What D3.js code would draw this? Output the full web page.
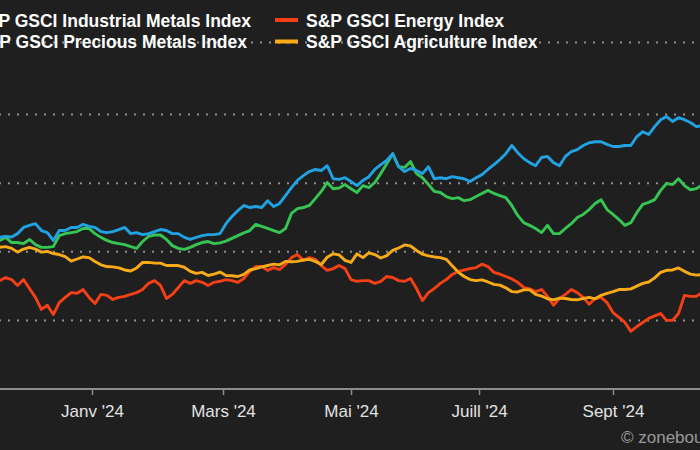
<!DOCTYPE html>
<html><head><meta charset="utf-8">
<script src="https://cdn.jsdelivr.net/npm/d3@7"></script>
<style>html,body{margin:0;padding:0;background:#1f1f1f;overflow:hidden}</style>
</head><body><svg id="c" width="700" height="450"></svg>
<script>
// ---- data ----
const seriesNames = ["S&P GSCI Industrial Metals Index", "S&P GSCI Energy Index", "S&P GSCI Precious Metals Index", "S&P GSCI Agriculture Index"];
const seriesColors = ["#36c552", "#f53f15", "#21a2e2", "#f8ab17"];
const tickDates = ["2024-01-01", "2024-03-01", "2024-05-01", "2024-07-01", "2024-09-01"];
const tickLabels = ["Janv '24", "Mars '24", "Mai '24", "Juill '24", "Sept '24"];
const yTicks = [80, 100, 120, 140, 161];
const firstDate = "2023-11-17";   // first sample, one value every 2 trading days
const industrialMetals = [103.3,104.2,102.7,102.7,102.4,103.6,102.1,101.3,101.3,101.5,
104.7,105.3,105.6,105.9,106.8,106.8,105.3,104.2,103.3,102.7,
102.4,102.1,101.5,101.0,103.0,104.5,104.9,104.9,103.6,101.8,
101.0,100.7,101.3,102.1,102.7,103.0,102.4,102.6,103.1,103.9,
104.7,105.5,106.2,108.0,107.4,106.8,106.2,105.6,106.8,111.2,
112.6,112.9,113.5,115.5,117.6,120.2,118.4,118.6,119.6,118.4,
117.3,119.3,118.7,120.2,122.8,125.7,128.6,124.8,124.6,126.3,
122.8,121.6,119.6,117.6,117.3,116.1,115.5,115.8,114.9,115.2,
116.1,117.0,117.9,117.0,116.4,115.8,113.5,110.6,108.5,107.7,
106.8,105.6,107.7,105.3,105.3,106.8,108.2,110.0,110.9,112.3,
114.1,115.2,112.3,110.9,109.4,107.7,108.5,111.4,113.8,114.4,
115.2,117.9,119.9,119.6,121.3,119.3,118.1,118.4,119.6];
const energy = [91.6,92.5,91.9,90.2,91.9,89.3,86.7,83.2,84.4,81.7,
85.2,86.7,88.1,87.9,89.0,86.7,84.9,87.6,87.3,86.1,
86.7,87.0,87.6,88.1,89.0,90.8,91.6,90.2,86.4,87.6,
89.6,91.6,90.8,91.6,91.1,90.2,91.1,91.4,91.9,91.6,
91.1,92.2,94.3,95.7,95.7,94.6,95.4,94.8,96.3,98.3,
99.2,97.5,98.3,97.8,96.0,94.6,95.1,96.0,95.1,91.9,
91.4,91.6,91.6,90.8,91.4,92.8,92.5,91.6,91.4,92.2,
89.3,85.8,88.1,89.3,90.8,91.9,93.4,94.3,94.7,95.1,
95.4,96.4,95.7,94.0,93.5,92.8,92.1,91.1,89.6,89.2,
88.4,89.0,87.0,84.4,86.4,87.6,89.0,88.1,86.7,84.7,
86.4,86.7,85.2,82.3,80.9,79.4,76.8,78.2,79.4,80.6,
81.3,82.0,80.0,80.0,82.0,87.3,87.0,87.0,88.1];
const preciousMetals = [104.2,104.5,104.3,105.3,107.1,107.7,108.2,106.2,105.6,103.3,
106.2,106.2,107.1,107.1,108.0,107.4,107.1,105.9,105.6,105.9,
106.5,107.1,105.3,105.6,105.0,105.3,105.9,106.5,106.2,105.3,
105.3,104.2,103.6,104.2,104.7,105.0,105.0,105.3,108.2,110.3,
112.0,113.5,112.9,113.2,112.9,114.9,113.2,114.1,116.4,118.7,
120.8,122.2,123.4,124.0,123.7,125.1,121.3,121.1,121.6,120.5,
119.3,120.8,121.9,124.0,125.4,126.6,128.6,124.8,123.4,124.3,
123.7,122.8,124.8,121.3,121.6,121.3,121.9,121.6,121.3,120.5,
121.6,122.5,124.0,125.4,126.9,128.6,131.0,128.9,127.2,126.0,
125.1,127.5,127.8,126.0,125.1,127.8,129.2,129.8,131.0,131.8,
132.1,132.1,131.3,130.7,130.7,131.0,131.0,133.6,135.0,134.2,
136.5,138.5,139.4,138.0,139.1,138.5,137.7,136.5,136.8];
const agriculture = [101.3,101.5,101.0,99.9,100.8,101.3,100.8,99.9,100.1,99.5,
99.2,98.6,97.3,97.9,98.5,98.3,97.2,96.2,95.7,95.6,
95.3,94.7,94.4,95.3,96.9,96.9,96.7,96.7,96.0,96.0,
96.0,95.5,94.3,93.7,94.0,93.1,93.5,94.1,93.1,93.0,
92.8,93.4,94.7,95.1,95.6,96.0,96.4,96.2,97.2,97.1,
97.2,97.6,97.8,97.2,96.3,98.4,99.4,99.1,97.5,96.9,
99.4,98.3,99.7,99.2,98.2,98.9,100.4,101.1,102.0,101.7,
100.4,99.3,98.8,98.5,98.3,97.8,95.9,94.1,92.8,91.9,
91.6,91.8,91.2,90.5,90.3,89.5,88.4,88.3,88.9,88.9,
87.6,87.1,86.3,86.0,86.5,86.4,86.1,86.0,86.4,86.7,
86.3,87.3,87.9,88.4,89.0,89.0,89.2,90.0,90.8,91.2,
92.4,94.0,94.6,94.7,95.3,94.3,93.5,93.2,93.4];

// ---- helpers: trading-day (weekday) index ----
const parse = d3.timeParse("%Y-%m-%d");
const base = parse("2023-11-20"); // a Monday
function wd(d) {
  const days = Math.round((d - base) / 864e5);
  const w = Math.floor(days / 7), r = days - 7 * w;
  return w * 5 + Math.min(r, 5);
}
const startIdx = wd(parse(firstDate));
const seriesData = [industrialMetals, energy, preciousMetals, agriculture];

// ---- layout ----
const W = 700, H = 450;
const svg = d3.select("#c");
svg.append("rect").attr("width", W).attr("height", H).attr("fill", "#1f1f1f");

const x = d3.scaleLinear()
  .domain([wd(parse(tickDates[0])), wd(parse(tickDates[4]))])
  .range([92, 613]);
const y = d3.scaleLinear().domain([60, 160]).range([389, 46]);

// gridlines
svg.append("g").selectAll("line").data(yTicks).join("line")
  .attr("x1", -10).attr("x2", W + 10)
  .attr("y1", d => y(d)).attr("y2", d => y(d))
  .attr("stroke", "#8f8f8f").attr("stroke-width", 2)
  .attr("stroke-dasharray", "2,7");

// x axis
const axis = d3.axisBottom(x)
  .tickValues(tickDates.map(s => wd(parse(s))))
  .tickFormat((d, i) => tickLabels[i])
  .tickSize(6).tickSizeOuter(0).tickPadding(10);
const gx = svg.append("g").attr("transform", `translate(0,${y(60)})`).call(axis);
gx.select(".domain").remove();
gx.selectAll(".tick line").attr("stroke", "#8c8c8c").attr("stroke-width", 1.5);
gx.selectAll(".tick text").attr("fill", "#e2e2e2")
  .style("font-family", "'Liberation Sans', Arial, sans-serif").style("font-size", "17px");
svg.append("line").attr("x1", 0).attr("x2", W).attr("y1", y(60)).attr("y2", y(60))
  .attr("stroke", "#8c8c8c").attr("stroke-width", 2);

// lines
const line = d3.line()
  .x((d, i) => x(startIdx + 2 * i))
  .y(d => y(d));
svg.append("g").selectAll("path").data(seriesData).join("path")
  .attr("d", d => line(d))
  .attr("fill", "none")
  .attr("stroke", (d, i) => seriesColors[i])
  .attr("stroke-width", 2.9)
  .attr("stroke-linejoin", "round").attr("stroke-linecap", "round");

// legend
const legFont = "'Liberation Sans', Arial, sans-serif";
const leg = svg.append("g");
const colEnds = [251, 247];
const rowsY = [20, 41.5];
const legendItems = [
  {s: 0, col: 0, row: 0}, {s: 1, col: 1, row: 0},
  {s: 2, col: 0, row: 1}, {s: 3, col: 1, row: 1}
];
legendItems.forEach(it => {
  const ty = rowsY[it.row];
  if (it.col === 1) {
    leg.append("line").attr("x1", 275).attr("x2", 298).attr("y1", ty).attr("y2", ty)
      .attr("stroke", seriesColors[it.s]).attr("stroke-width", 4);
    leg.append("text").attr("x", 306).attr("y", ty + 6.5)
      .attr("fill", "#ffffff").style("font-family", legFont).style("font-weight", "bold")
      .style("font-size", "17.5px").text(seriesNames[it.s]);
  } else {
    const t = leg.append("text").attr("x", colEnds[it.row]).attr("y", ty + 6.5)
      .attr("text-anchor", "end")
      .attr("fill", "#ffffff").style("font-family", legFont).style("font-weight", "bold")
      .style("font-size", "17.5px").text(seriesNames[it.s]);
    const w = t.node().getComputedTextLength();
    const sx = colEnds[it.row] - w - 31;
    leg.append("line").attr("x1", sx).attr("x2", sx + 23).attr("y1", ty).attr("y2", ty)
      .attr("stroke", seriesColors[it.s]).attr("stroke-width", 4);
  }
});

// credit
svg.append("text").attr("x", 621).attr("y", 443)
  .attr("fill", "#9a9a9a").style("font-family", legFont).style("font-size", "17px")
  .text("© zonebourse.com");
</script></body></html>
